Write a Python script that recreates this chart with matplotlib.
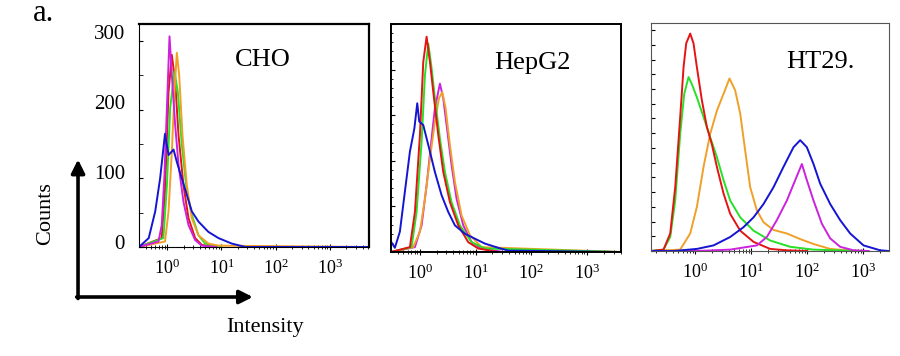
import numpy as np
import matplotlib
matplotlib.use("Agg")
import matplotlib.pyplot as plt
from matplotlib.transforms import ScaledTranslation
from matplotlib.ticker import LogLocator, FixedLocator, MultipleLocator, NullFormatter, LogFormatterSciNotation

plt.rcParams["font.family"] = ["Liberation Serif", "DejaVu Serif"]
plt.rcParams["mathtext.fontset"] = "stix"

# ---- data: log10(intensity) and counts per curve ----
# CHO
cho_blue_x = [-0.52, -0.34, -0.22, -0.13, -0.04, 0.025, 0.117, 0.178, 0.27, 0.362, 0.454, 0.577, 0.76, 0.945, 1.19, 1.44, 3.72]
cho_blue_y = [0, 13, 52, 100, 165, 134, 142, 124, 100, 76, 52, 37, 22, 13, 5, 0, 0]
cho_magenta_x = [-0.52, -0.16, -0.10, -0.05, -0.005, 0.043, 0.086, 0.147, 0.209, 0.30, 0.393, 0.516, 0.638, 0.9]
cho_magenta_y = [0, 8, 32, 105, 202, 307, 251, 178, 120, 66, 32, 10, 2, 0]
cho_red_x = [-0.52, -0.10, -0.04, 0.025, 0.086, 0.147, 0.209, 0.30, 0.393, 0.516, 0.638, 0.9]
cho_red_y = [0, 13, 81, 226, 280, 241, 163, 90, 42, 13, 3, 0]
cho_green_x = [-0.52, -0.07, -0.005, 0.055, 0.135, 0.196, 0.27, 0.362, 0.454, 0.577, 0.70, 1.0]
cho_green_y = [0, 13, 90, 202, 256, 226, 149, 81, 47, 17, 5, 0]
cho_orange_x = [-0.52, -0.04, 0.025, 0.086, 0.135, 0.178, 0.221, 0.282, 0.362, 0.454, 0.577, 0.76, 0.945, 3.72]
cho_orange_y = [0, 8, 52, 139, 226, 283, 251, 163, 90, 42, 17, 5, 2, 0]

# HepG2
hep_blue_x = [-0.52, -0.45, -0.36, -0.27, -0.18, -0.10, -0.048, -0.012, 0.06, 0.12, 0.18, 0.269, 0.389, 0.509, 0.628, 0.808, 0.987, 1.167, 1.407, 1.586, 3.61]
hep_blue_y = [15, 6, 29, 86, 143, 176, 212, 186, 181, 162, 143, 114, 81, 57, 38, 26, 19, 12, 6, 2, 0]
hep_red_x = [-0.52, -0.18, -0.09, 0.0, 0.06, 0.12, 0.18, 0.24, 0.329, 0.419, 0.539, 0.688, 0.868, 1.047, 1.4]
hep_red_y = [0, 7, 57, 167, 271, 307, 271, 228, 167, 114, 71, 38, 14, 5, 0]
hep_green_x = [-0.52, -0.15, -0.06, 0.03, 0.09, 0.15, 0.21, 0.269, 0.359, 0.449, 0.568, 0.718, 0.928, 1.167, 3.61]
hep_green_y = [0, 7, 57, 157, 252, 297, 262, 219, 162, 114, 71, 38, 14, 5, 0]
hep_magenta_x = [-0.52, -0.09, 0.03, 0.12, 0.21, 0.269, 0.359, 0.419, 0.479, 0.568, 0.658, 0.778, 0.928, 1.107, 1.5]
hep_magenta_y = [0, 7, 38, 95, 162, 205, 240, 219, 181, 124, 76, 38, 14, 5, 0]
hep_orange_x = [-0.52, -0.12, 0.0, 0.09, 0.18, 0.269, 0.341, 0.401, 0.461, 0.539, 0.628, 0.748, 0.898, 1.107, 3.61]
hep_orange_y = [0, 7, 29, 76, 133, 186, 219, 228, 205, 152, 100, 52, 24, 7, 0]

# HT29
ht_red_x = [-0.79, -0.566, -0.446, -0.357, -0.268, -0.208, -0.161, -0.089, -0.030, 0.030, 0.119, 0.208, 0.298, 0.387, 0.506, 0.625, 0.804, 1.042, 1.339, 1.637, 2.0]
ht_red_y = [0, 2, 25, 91, 191, 262, 296, 310, 296, 262, 215, 177, 152, 120, 82, 53, 29, 13, 3, 1, 0]
ht_green_x = [-0.79, -0.566, -0.446, -0.357, -0.268, -0.196, -0.119, -0.060, 0.030, 0.149, 0.268, 0.387, 0.506, 0.625, 0.804, 1.042, 1.339, 1.696, 2.113, 2.530, 2.9]
ht_green_y = [0, 2, 20, 72, 167, 224, 248, 238, 219, 191, 162, 134, 101, 72, 48, 29, 15, 6, 2, 1, 0]
ht_orange_x = [-0.79, -0.268, -0.089, 0.030, 0.149, 0.268, 0.387, 0.506, 0.613, 0.714, 0.804, 0.893, 0.982, 1.101, 1.220, 1.399, 1.637, 1.875, 2.113, 2.411, 2.708, 3.0]
ht_orange_y = [0, 2, 25, 63, 120, 167, 200, 224, 246, 229, 196, 143, 91, 58, 41, 30, 25, 17, 10, 3, 1, 0]
ht_blue_x = [-0.79, -0.387, 0.030, 0.327, 0.625, 0.863, 1.042, 1.220, 1.399, 1.577, 1.756, 1.875, 1.994, 2.113, 2.232, 2.411, 2.589, 2.768, 3.006, 3.304, 3.46]
ht_blue_y = [0, 0, 3, 8, 20, 34, 48, 67, 91, 120, 148, 158, 148, 124, 96, 67, 44, 25, 8, 1, 0]
ht_magenta_x = [-0.79, 0.030, 0.625, 1.101, 1.280, 1.458, 1.637, 1.786, 1.905, 1.994, 2.113, 2.262, 2.411, 2.589, 2.827, 3.1]
ht_magenta_y = [0, 0, 2, 8, 20, 44, 72, 101, 124, 101, 72, 39, 18, 6, 1, 0]

panel_titles = ["CHO", "HepG2", "HT29."]
y_tick_labels = ["0", "100", "200", "300"]

colors = {"blue": "#1414d2", "red": "#e41414", "green": "#28e028",
          "orange": "#f0a028", "magenta": "#cc22dd"}

panels = [
    {"title": panel_titles[0], "pos": [0.1544, 0.3062, 0.2556, 0.6264], "xlim": (-0.52, 3.72),
     "curves": [("red", cho_red_x, cho_red_y), ("green", cho_green_x, cho_green_y),
                ("orange", cho_orange_x, cho_orange_y), ("magenta", cho_magenta_x, cho_magenta_y),
                ("blue", cho_blue_x, cho_blue_y)],
     "title_xy": (0.54, 0.84)},
    {"title": panel_titles[1], "pos": [0.4344, 0.2921, 0.2556, 0.6404], "xlim": (-0.52, 3.61),
     "curves": [("magenta", hep_magenta_x, hep_magenta_y), ("orange", hep_orange_x, hep_orange_y),
                ("green", hep_green_x, hep_green_y), ("red", hep_red_x, hep_red_y),
                ("blue", hep_blue_x, hep_blue_y)],
     "title_xy": (0.615, 0.83)},
    {"title": panel_titles[2], "pos": [0.7233, 0.2949, 0.2644, 0.6404], "xlim": (-0.79, 3.46),
     "curves": [("orange", ht_orange_x, ht_orange_y), ("green", ht_green_x, ht_green_y),
                ("red", ht_red_x, ht_red_y), ("magenta", ht_magenta_x, ht_magenta_y),
                ("blue", ht_blue_x, ht_blue_y)],
     "title_xy": (0.71, 0.83)},
]

fig = plt.figure(figsize=(9, 3.56), dpi=100)

for i, p in enumerate(panels):
    ax = fig.add_axes(p["pos"])
    for cname, lx, cnt in p["curves"]:
        ax.plot(10 ** np.array(lx), cnt, color=colors[cname], lw=1.4)
    ax.set_xscale("log")
    ax.set_xlim(10 ** p["xlim"][0], 10 ** p["xlim"][1])
    ax.set_ylim(0, 325)
    ax.xaxis.set_major_locator(FixedLocator([1, 10, 100, 1000]))
    ax.xaxis.set_major_formatter(LogFormatterSciNotation())
    ax.xaxis.set_minor_locator(LogLocator(base=10, subs=np.arange(2, 10), numticks=20))
    ax.xaxis.set_minor_formatter(NullFormatter())
    ax.tick_params(axis="x", which="major", direction="inout", length=5, labelsize=13, pad=6)
    ax.tick_params(axis="x", which="minor", direction="inout", length=3)
    ax.text(*p["title_xy"], p["title"], transform=ax.transAxes, ha="center", va="center", fontsize=19)
    if i == 0:
        ax.set_yticks([0, 100, 200, 300])
        ax.set_yticklabels(y_tick_labels)
        ax.yaxis.set_minor_locator(MultipleLocator(50))
        ax.tick_params(axis="y", which="both", direction="in", length=3, labelsize=15, pad=10)
        # the printed labels sit a little above their tick marks
        for k, lab in enumerate(ax.get_yticklabels()):
            lab.set_transform(lab.get_transform() + ScaledTranslation(0, (5 + 1.5 * k) / 100, fig.dpi_scale_trans))
        for s in ["top", "right"]:
            ax.spines[s].set_linewidth(1.6)
        for s in ["left", "bottom"]:
            ax.spines[s].set_linewidth(0.8)
    elif i == 1:
        ax.yaxis.set_major_locator(MultipleLocator(65))
        ax.yaxis.set_minor_locator(MultipleLocator(13))
        ax.tick_params(axis="y", which="major", direction="in", length=3, labelleft=False)
        ax.tick_params(axis="y", which="minor", direction="in", length=1.5)
        for s in ax.spines.values():
            s.set_linewidth(1.4)
    else:
        ax.yaxis.set_major_locator(MultipleLocator(21))
        ax.tick_params(axis="y", which="major", direction="in", length=3, labelleft=False)
        for s in ax.spines.values():
            s.set_linewidth(0.8)
            s.set_color("#555555")

# big axis arrows and labels
arrow = dict(arrowstyle="-|>", lw=2.6, color="black", mutation_scale=20, shrinkA=0, shrinkB=0)
plt.annotate("", xy=(0.0867, 0.552), xytext=(0.0867, 0.1615), xycoords="figure fraction", arrowprops=arrow)
plt.annotate("", xy=(0.281, 0.1657), xytext=(0.0852, 0.1657), xycoords="figure fraction", arrowprops=arrow)

fig.text(0.051, 0.40, "Counts", rotation=90, ha="center", va="center", fontsize=16)
fig.text(0.2944, 0.079, "Intensity", ha="center", va="center", fontsize=16)
fig.text(0.048, 0.962, "a.", ha="center", va="center", fontsize=22)

fig.savefig("out.png", dpi=100)
